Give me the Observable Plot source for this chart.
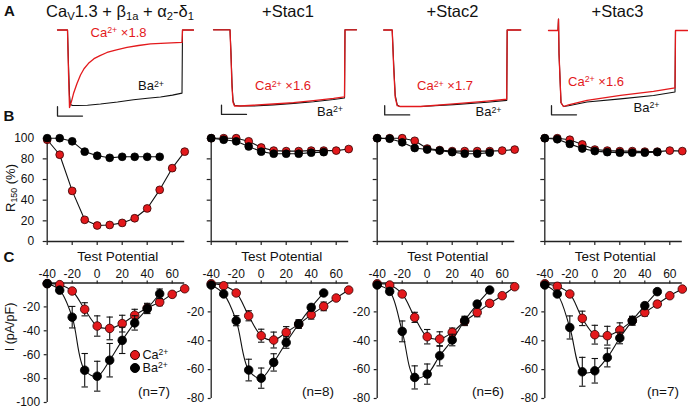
<!DOCTYPE html>
<html><head><meta charset="utf-8">
<script src="https://cdn.jsdelivr.net/npm/d3@7"></script>
<script src="https://cdn.jsdelivr.net/npm/@observablehq/plot@0.6"></script>
<style>
body{margin:0;background:#fff;}
#fig{position:relative;width:688px;height:408px;overflow:hidden;background:#fff;font-family:"Liberation Sans",Arial,Helvetica,sans-serif;color:#111;}
#fig svg{position:absolute;left:0;top:0;background:transparent;}
.t{position:absolute;white-space:nowrap;line-height:1;}
.t sup{font-size:0.68em;position:relative;top:-0.42em;vertical-align:baseline;line-height:0;}
.t sub{font-size:0.68em;position:relative;top:0.28em;vertical-align:baseline;line-height:0;}
.dotlg{position:absolute;border-radius:50%;box-sizing:border-box;}
</style>
</head><body>
<div id="fig"></div>
<script>
// ---------- categories / labels ----------
const panelTitles = ["Ca<sub>V</sub>1.3 + β<sub>1a</sub> + α<sub>2</sub>-δ<sub>1</sub>", "+Stac1", "+Stac2", "+Stac3"];
const caScaleLabels = ["×1.8", "×1.6", "×1.7", "×1.6"];
const nCells = ["(n=7)", "(n=8)", "(n=6)", "(n=7)"];
const potentials = [-40, -30, -20, -10, 0, 10, 20, 30, 40, 50, 60, 70];
const xTicks = [-40, -20, 0, 20, 40, 60];
const rTicks = [0, 20, 40, 60, 80, 100];
const iTicksCav = [-20, -40, -60, -80, -100];
const iTicksStac = [-20, -40, -60, -80];

// ---------- Panel A: normalized current traces (time in ms) ----------
const trCaT_cav = [-20, 0, 2, 4, 8, 12, 19, 26, 33, 42, 53, 65, 79, 98, 119, 142, 166, 197, 229, 230, 252];
const trCaV_cav = [0, 0, -0.55, -1.0, -0.92, -0.82, -0.69, -0.58, -0.50, -0.43, -0.37, -0.33, -0.29, -0.255, -0.225, -0.20, -0.18, -0.17, -0.16, 0, 0];
const trBaT_cav = [-20, 0, 2, 4, 6, 10, 20, 40, 66, 100, 132, 160, 186, 210, 229, 230, 252];
const trBaV_cav = [0, 0, -0.45, -0.85, -0.96, -0.975, -0.975, -0.97, -0.955, -0.93, -0.90, -0.88, -0.865, -0.84, -0.815, 0, 0];

const trT_stac1 = [-33, 0, 2, 4, 6, 9, 20, 47, 87, 127, 167, 207, 229, 230, 253];
const trCaV_stac1 = [0, 0, -0.35, -0.75, -0.95, -1.0, -1.0, -0.99, -0.974, -0.957, -0.93, -0.90, -0.88, 0, 0];
const trBaV_stac1 = [0, 0, -0.3, -0.7, -0.93, -0.99, -1.0, -1.0, -0.985, -0.965, -0.945, -0.915, -0.895, 0, 0];

const trT_stac2 = [-17, 0, 3, 6, 10, 15, 57, 123, 190, 229, 230, 257];
const trCaV_stac2 = [0, 0, -0.5, -0.88, -0.99, -1.0, -1.0, -0.965, -0.93, -0.905, 0, 0];
const trBaV_stac2 = [0, 0, -0.45, -0.85, -0.98, -1.0, -1.0, -0.975, -0.945, -0.92, 0, 0];

const trT_stac3 = [-20, -1, 0, 1, 5, 10, 20, 57, 124, 190, 233, 234, 258];
const trCaV_stac3 = [0, 0, 0.15, -0.3, -0.95, -1.0, -0.98, -0.92, -0.855, -0.80, -0.754, 0, 0];
const trBaV_stac3 = [0, 0, 0.15, -0.3, -0.95, -1.0, -0.99, -0.94, -0.90, -0.855, -0.81, 0, 0];

const scaleBarMs = 50;
const scaleBarAmp = 0.12;
const scaleBarStartMs = [-20, -17, -15, -14];
const scaleBarLevel = -1.11;

// ---------- Panel B: R150 (%) ----------
const r150Ca_cav   = [98.5, 84, 49, 21, 15.5, 16, 18, 22.5, 32, 50, 71, 87];
const r150Ba_cav   = [100, 100, 97, 87, 83, 81, 82, 82, 82, 82];
const r150Ca_stac1 = [100, 100, 100, 97, 91, 88, 87.5, 87.5, 88, 88, 88, 89.5];
const r150Ba_stac1 = [100, 98.5, 97, 92, 87, 85, 85, 85, 86, 86.5];
const r150Ca_stac2 = [100, 100, 100, 97.5, 90, 88.5, 87.5, 87.5, 87.5, 87.5, 88, 89];
const r150Ba_stac2 = [100, 99.5, 96, 90.5, 89, 88, 86.5, 85, 85, 86];
const r150Ca_stac3 = [100, 100, 98.5, 94, 89, 88, 87.5, 87.5, 87, 87, 88, 87.5];
const r150Ba_stac3 = [100, 99, 94.5, 90, 87.5, 86.5, 86, 86, 86, 86.5];

// ---------- Panel C: I-V (pA/pF), mean and SEM ----------
const iCa_cav     = [-0.5, -1.4, -6.7, -22, -36, -38, -34, -27, -21, -16, -9.5, -4.8];
const iCaSem_cav  = [0, 0, 1.5, 5.5, 8.5, 9.5, 7, 5, 4, 3, 1.5, 0];
const iBa_cav     = [-0.5, -6, -28.6, -73, -78, -64.6, -48, -33.4, -21.6, -9];
const iBaSem_cav  = [0, 1.5, 9, 14, 12.5, 14, 11, 6, 4, 4];

const iCa_stac1    = [-0.5, -1.9, -6.9, -22.7, -36.5, -39.5, -34.2, -28.5, -22, -16.2, -10.4, -4.9];
const iCaSem_stac1 = [0, 0, 1, 3.5, 4.5, 5.5, 4, 2.5, 3, 3, 1.5, 0];
const iBa_stac1    = [-1.4, -7.6, -26.1, -60.3, -65.9, -55, -41.2, -28.4, -16.9, -6.9];
const iBaSem_stac1 = [0, 1, 3.5, 7.5, 7, 6, 4, 3, 2, 1];

const iCa_stac2    = [-0.5, -1.4, -7.6, -23.8, -37.2, -38.8, -34.2, -26.5, -20.4, -14.1, -8.8, -2.6];
const iCaSem_stac2 = [0, 0, 1, 3.5, 5, 5, 3, 3, 3, 2, 1, 0];
const iBa_stac2    = [-1.4, -5.8, -33.5, -65.4, -63.1, -50.4, -39.5, -26, -14.6, -4.9];
const iBaSem_stac2 = [0, 1, 7.2, 8, 7, 7, 4, 3, 2, 1];

const iCa_stac3    = [-0.5, -2.3, -7.6, -24.5, -35.8, -36.5, -32.6, -26.1, -20.4, -14.6, -8.8, -4.2];
const iCaSem_stac3 = [0, 0, 1, 5, 6.5, 6.5, 5, 3, 2.5, 2, 1, 0];
const iBa_stac3    = [-1.4, -7.6, -30.8, -61.5, -60.8, -51.6, -38.1, -26.1, -15.7, -6];
const iBaSem_stac3 = [0, 1, 8, 10, 8.5, 6.5, 4, 3, 2, 1];

// ---------- assemble ----------
const zipT = (t, v) => t.map((d, k) => ({t: d, v: v[k]}));
const tracePanels = [
  {ca: zipT(trCaT_cav, trCaV_cav), ba: zipT(trBaT_cav, trBaV_cav)},
  {ca: zipT(trT_stac1, trCaV_stac1), ba: zipT(trT_stac1, trBaV_stac1)},
  {ca: zipT(trT_stac2, trCaV_stac2), ba: zipT(trT_stac2, trBaV_stac2)},
  {ca: zipT(trT_stac3, trCaV_stac3), ba: zipT(trT_stac3, trBaV_stac3)}
];
const rPanels = [[r150Ca_cav, r150Ba_cav], [r150Ca_stac1, r150Ba_stac1], [r150Ca_stac2, r150Ba_stac2], [r150Ca_stac3, r150Ba_stac3]];
const iPanels = [
  [iCa_cav, iCaSem_cav, iBa_cav, iBaSem_cav],
  [iCa_stac1, iCaSem_stac1, iBa_stac1, iBaSem_stac1],
  [iCa_stac2, iCaSem_stac2, iBa_stac2, iBaSem_stac2],
  [iCa_stac3, iCaSem_stac3, iBa_stac3, iBaSem_stac3]
];

// ---------- layout ----------
const W = 688, H = 408;
const FONT = '"Liberation Sans", Arial, Helvetica, sans-serif';
const RED = "#e3191c", INK = "#111", AX = "#222";
const panelX0 = [46.7, 210.7, 376.7, 544.3];
const xSpan = 137.5;
const trStartPx = [67, 229.5, 391.7, 558];
const trBasePx = [29.5, 29.3, 29.5, 30];
const trPeakPx = [107, 105.5, 106, 106];
const fig = document.getElementById("fig");

function addPlot(opts) {
  const svg = Plot.plot(Object.assign({width: W, height: H,
    style: {background: "transparent", fontFamily: FONT, fontSize: "12px", color: INK}}, opts));
  fig.appendChild(svg);
}

const capSymbol = {draw(ctx) { ctx.moveTo(-3.2, 0); ctx.lineTo(3.2, 0); }};

// Panel A traces
tracePanels.forEach((p, i) => {
  const s0 = scaleBarStartMs[i];
  const bar = [{t: s0, v: scaleBarLevel + scaleBarAmp}, {t: s0, v: scaleBarLevel}, {t: s0 + scaleBarMs, v: scaleBarLevel}];
  addPlot({
    x: {domain: [0, 230], range: [trStartPx[i], trStartPx[i] + 115], axis: null},
    y: {domain: [-1, 0], range: [trPeakPx[i], trBasePx[i]], axis: null},
    marks: [
      Plot.line(p.ba, {x: "t", y: "v", stroke: INK, strokeWidth: 1.1}),
      Plot.line(p.ca, {x: "t", y: "v", stroke: RED, strokeWidth: 1.3}),
      Plot.line(bar, {x: "t", y: "v", stroke: AX, strokeWidth: 1.3})
    ]
  });
});

// Panel B
rPanels.forEach(([ca, ba], i) => {
  const x0 = panelX0[i];
  const caD = ca.map((r, k) => ({v: potentials[k], r}));
  const baD = ba.map((r, k) => ({v: potentials[k], r}));
  addPlot({
    marginLeft: x0, marginRight: W - (x0 + xSpan), marginTop: 137.7, marginBottom: H - 241,
    x: {domain: [-40, 70]}, y: {domain: [0, 100]},
    marks: [
      Plot.axisX({anchor: "bottom", ticks: xTicks, tickSize: 4, tickFormat: () => "", label: null, stroke: AX, strokeWidth: 1.2}),
      Plot.axisY({anchor: "left", ticks: rTicks, tickSize: 4, tickPadding: 9, tickFormat: i === 0 ? (d => String(d)) : (() => ""), label: null, stroke: AX, strokeWidth: 1.2}),
      Plot.ruleY([0], {stroke: AX, strokeWidth: 1.3}),
      Plot.ruleX([-40], {stroke: AX, strokeWidth: 1.3}),
      Plot.line(caD, {x: "v", y: "r", stroke: INK, strokeWidth: 1.1}),
      Plot.dot(caD, {x: "v", y: "r", r: 3.9, fill: RED, stroke: "#300", strokeWidth: 0.8}),
      Plot.line(baD, {x: "v", y: "r", stroke: INK, strokeWidth: 1.1}),
      Plot.dot(baD, {x: "v", y: "r", r: 3.9, fill: "#000", stroke: "#000", strokeWidth: 0.8})
    ]
  });
});

// Panel C
iPanels.forEach(([ca, caS, ba, baS], i) => {
  const x0 = panelX0[i];
  const bottom = i === 0 ? 402 : 398;
  const caD = ca.map((y, k) => ({v: potentials[k], y, lo: y - caS[k], hi: y + caS[k], s: caS[k]}));
  const baD = ba.map((y, k) => ({v: potentials[k], y, lo: y - baS[k], hi: y + baS[k], s: baS[k]}));
  const caE = caD.filter(d => d.s > 0), baE = baD.filter(d => d.s > 0);
  const errMarks = (E) => [
    Plot.ruleX(E, {x: "v", y1: "lo", y2: "hi", stroke: INK, strokeWidth: 1.1}),
    Plot.dot(E, {x: "v", y: "lo", symbol: capSymbol, stroke: INK, strokeWidth: 1.1, fill: "none"}),
    Plot.dot(E, {x: "v", y: "hi", symbol: capSymbol, stroke: INK, strokeWidth: 1.1, fill: "none"})
  ];
  addPlot({
    marginLeft: x0, marginRight: W - (x0 + xSpan), marginTop: 282.5, marginBottom: H - bottom,
    x: {domain: [-40, 70]}, y: {domain: [i === 0 ? -100 : -80, 0]},
    marks: [
      Plot.axisX({anchor: "top", ticks: xTicks, tickSize: 3, tickPadding: 2, tickFormat: d => String(d), label: null, stroke: AX, strokeWidth: 1.2}),
      Plot.axisY({anchor: "left", ticks: i === 0 ? iTicksCav : iTicksStac, tickSize: 3, tickPadding: 4, tickFormat: d => String(d), label: null, stroke: AX, strokeWidth: 1.2}),
      Plot.ruleY([0], {stroke: AX, strokeWidth: 1.3}),
      Plot.ruleX([-40], {stroke: AX, strokeWidth: 1.3}),
      Plot.line(caD, {x: "v", y: "y", curve: "catmull-rom", stroke: INK, strokeWidth: 1.1}),
      ...errMarks(caE),
      Plot.dot(caD, {x: "v", y: "y", r: 4.3, fill: RED, stroke: "#300", strokeWidth: 0.8}),
      Plot.line(baD, {x: "v", y: "y", curve: "catmull-rom", stroke: INK, strokeWidth: 1.1}),
      ...errMarks(baE),
      Plot.dot(baD, {x: "v", y: "y", r: 4.3, fill: "#000", stroke: "#000", strokeWidth: 0.8})
    ]
  });
});

// ---------- HTML text ----------
function txt(html, x, base, size, o = {}) {
  const d = document.createElement("div");
  d.className = "t";
  d.innerHTML = html;
  d.style.fontSize = size + "px";
  d.style.color = o.color || INK;
  if (o.bold) d.style.fontWeight = "bold";
  if (o.rotate) {
    d.style.left = x + "px"; d.style.top = base + "px";
    d.style.transform = "translate(-50%,-50%) rotate(-90deg)";
  } else {
    d.style.left = x + "px";
    d.style.top = (base - 0.8465 * size) + "px";
    if (o.anchor === "middle") d.style.transform = "translateX(-50%)";
  }
  fig.appendChild(d);
}

txt("A", 4, 15.7, 15, {bold: true});
txt("B", 3.5, 120.5, 15, {bold: true});
txt("C", 3.5, 262, 15, {bold: true});

const titleCx = [120, 288, 452.5, 617.5];
panelTitles.forEach((t, i) => txt(t, titleCx[i], 16.7, 16.5, {anchor: "middle"}));

const caLblPos = [[90.5, 37], [255, 90.5], [417, 90.5], [568, 86]];
const baLblPos = [[138, 90.5], [317, 116], [475.5, 116.5], [633.5, 112]];
caScaleLabels.forEach((s, i) => txt("Ca<sup>2+</sup> " + s, caLblPos[i][0], caLblPos[i][1], 13, {color: RED}));
baLblPos.forEach(([x, y]) => txt("Ba<sup>2+</sup>", x, y, 13));

txt("R<sub>150</sub> (%)", 10, 188, 13, {rotate: true});
txt("I (pA/pF)", 10, 327, 12.5, {rotate: true});

panelX0.forEach((x0, i) => txt("Test Potential", x0 + 71, 261.7, 13.5, {anchor: "middle"}));
const nPos = [138, 302, 472, 647];
nCells.forEach((n, i) => txt(n, nPos[i], 396.5, 13.5));

// legend
function lgDot(cx, cy, fill) {
  const d = document.createElement("div");
  d.className = "dotlg";
  Object.assign(d.style, {left: (cx - 5) + "px", top: (cy - 5) + "px", width: "10px", height: "10px", background: fill, border: "0.8px solid " + (fill === RED ? "#300" : "#000")});
  fig.appendChild(d);
}
lgDot(135, 355, RED);
lgDot(135, 367.5, "#000");
txt("Ca<sup>2+</sup>", 142.5, 359.3, 12.6);
txt("Ba<sup>2+</sup>", 142.5, 372.3, 12.6);
</script>
</body></html>
